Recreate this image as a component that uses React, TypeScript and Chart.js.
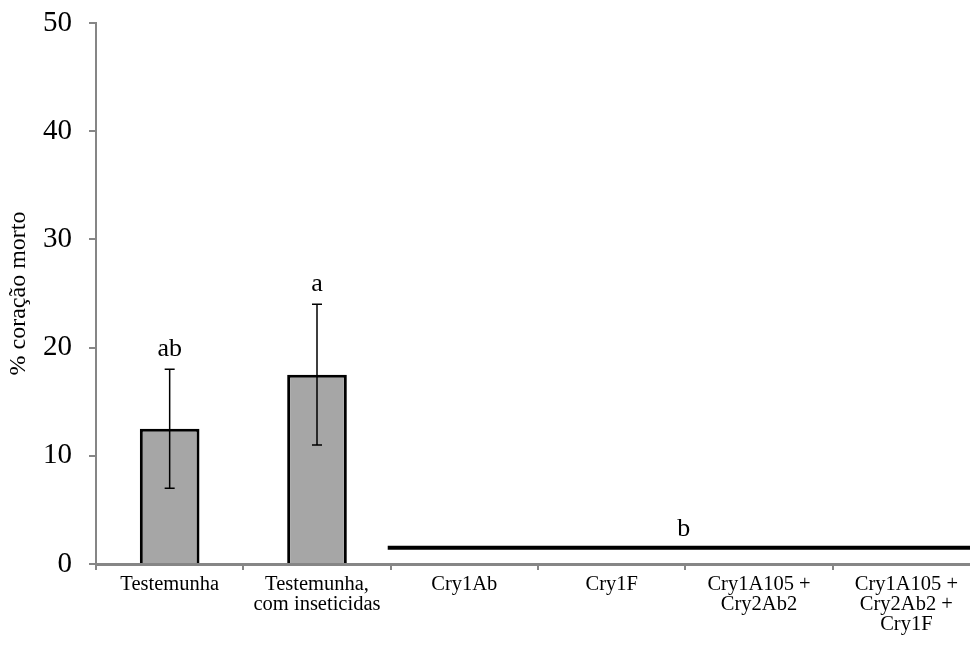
import React, { useEffect, useRef } from "react";
import { Chart, registerables } from "chart.js";

Chart.register(...registerables);

const categories: (string | string[])[] = [
  "Testemunha",
  ["Testemunha,", "com inseticidas"],
  "Cry1Ab",
  "Cry1F",
  ["Cry1A105 +", "Cry2Ab2"],
  ["Cry1A105 +", "Cry2Ab2 +", "Cry1F"],
];
const values = [12.5, 17.5, 0, 0, 0, 0];
const errLow: (number | null)[] = [7, 11, null, null, null, null];
const errHigh: (number | null)[] = [18, 24, null, null, null, null];
const letters: (string | null)[] = ["ab", "a", null, null, null, null];

// group line for treatments with no damage (in category-index units)
const groupStart = 1.48;
const groupEnd = 5.5;
const groupValue = 1.5;
const groupLetter = "b";

const yTicks = [0, 10, 20, 30, 40, 50];

const FONT = "'Liberation Serif', 'Times New Roman', serif";

const annotPlugin = {
  id: "annot",
  afterDatasetsDraw(chart: any) {
    const ctx = chart.ctx;
    const x = chart.scales.x;
    const y = chart.scales.y;
    ctx.save();
    ctx.strokeStyle = "#000";
    ctx.fillStyle = "#000";
    // group line
    const gy = y.getPixelForValue(groupValue);
    const gx0 = x.getPixelForValue(groupStart);
    const gx1 = x.getPixelForValue(groupEnd);
    ctx.lineWidth = 4;
    ctx.beginPath();
    ctx.moveTo(gx0, gy);
    ctx.lineTo(gx1, gy);
    ctx.stroke();

    ctx.lineWidth = 1.5;
    for (let i = 0; i < values.length; i++) {
      const lo = errLow[i];
      const hi = errHigh[i];
      const cx = x.getPixelForValue(i);
      if (lo != null && hi != null) {
        const yl = y.getPixelForValue(lo);
        const yh = y.getPixelForValue(hi);
        ctx.beginPath();
        ctx.moveTo(cx, yl);
        ctx.lineTo(cx, yh);
        ctx.moveTo(cx - 5, yl);
        ctx.lineTo(cx + 5, yl);
        ctx.moveTo(cx - 5, yh);
        ctx.lineTo(cx + 5, yh);
        ctx.stroke();
      }
      const L = letters[i];
      if (L) {
        const top = hi != null ? hi : values[i];
        ctx.font = `26px ${FONT}`;
        ctx.textAlign = "center";
        ctx.textBaseline = "middle";
        ctx.fillText(L, cx, y.getPixelForValue(top) - 20);
      }
    }
    ctx.font = `26px ${FONT}`;
    ctx.textAlign = "center";
    ctx.textBaseline = "middle";
    ctx.fillText(groupLetter, (gx0 + gx1) / 2, gy - 19);
    ctx.restore();
  },
};

export default function App() {
  const ref = useRef<HTMLCanvasElement>(null);
  useEffect(() => {
    if (!ref.current) return;
    const chart = new Chart(ref.current, {
      type: "bar",
      data: {
        labels: categories as any,
        datasets: [
          {
            data: values,
            backgroundColor: "#A6A6A6",
            borderColor: "#000",
            borderWidth: 3,
            barPercentage: 0.405,
            categoryPercentage: 1,
          },
        ],
      },
      options: {
        responsive: false,
        animation: false,
        devicePixelRatio: 1,
        layout: { padding: { top: 23, right: 10, left: 0, bottom: 0 } },
        plugins: { legend: { display: false }, tooltip: { enabled: false } },
        scales: {
          x: {
            type: "category",
            offset: true,
            grid: {
              offset: true,
              drawOnChartArea: false,
              drawTicks: true,
              tickLength: 6,
              color: "#868686",
              lineWidth: 2,
            },
            border: { color: "#868686", width: 3 },
            ticks: {
              color: "#000",
              font: { family: FONT, size: 20.5, lineHeight: 0.96 },
              maxRotation: 0,
              autoSkip: false,
              padding: 5,
            },
            afterFit(scale: any) {
              scale.height = 83;
              scale.paddingLeft = 0;
              scale.paddingRight = 0;
            },
          },
          y: {
            type: "linear",
            min: 0,
            max: 50,
            afterBuildTicks(scale: any) {
              scale.ticks = yTicks.map((v) => ({ value: v }));
            },
            grid: {
              drawOnChartArea: false,
              drawTicks: true,
              tickLength: 7,
              color: "#868686",
              lineWidth: 2,
            },
            border: { color: "#868686", width: 2 },
            ticks: {
              color: "#000",
              font: { family: FONT, size: 29 },
              padding: 17,
            },
            title: {
              display: true,
              text: "% coração morto",
              color: "#000",
              font: { family: FONT, size: 24 },
              padding: { top: 4, bottom: 0 },
            },
            afterFit(scale: any) {
              scale.width = 96;
              scale.paddingTop = 0;
              scale.paddingBottom = 0;
            },
          },
        },
      },
      plugins: [annotPlugin],
    });
    return () => chart.destroy();
  }, []);
  return (
    <div
      style={{
        position: "absolute",
        left: 0,
        top: 0,
        width: 970,
        height: 647,
        overflow: "hidden",
        background: "#fff",
      }}
    >
      <canvas ref={ref} width={990} height={647} style={{ width: 990, height: 647 }} />
    </div>
  );
}
